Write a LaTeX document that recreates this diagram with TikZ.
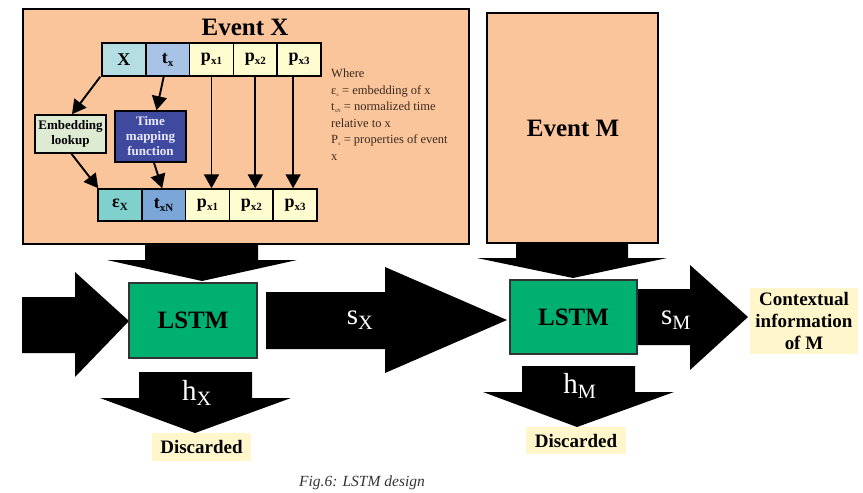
\documentclass[tikz,border=0pt]{standalone}
\usepackage{fontspec}
\setmainfont{Liberation Serif}
\usetikzlibrary{arrows.meta}
\definecolor{peach}{HTML}{FBC59B}
\definecolor{cellx}{HTML}{B4DEE2}
\definecolor{celltx}{HTML}{A8C3E6}
\definecolor{cellp}{HTML}{FFFCD0}
\definecolor{celleps}{HTML}{80D0CE}
\definecolor{celltxn}{HTML}{7AA6D8}
\definecolor{embfill}{HTML}{DEEBD3}
\definecolor{tmfill}{HTML}{3F4A9E}
\definecolor{lstmfill}{HTML}{00B070}
\definecolor{notefill}{HTML}{FFF6CC}
\definecolor{notetext}{HTML}{3B2A20}
\definecolor{captext}{HTML}{333333}
\tikzset{
  eventbox/.style={draw=black, line width=1.6pt, fill=peach, inner sep=0pt},
  cellbox/.style={draw=black, line width=1.5pt, minimum width=43.8pt, inner sep=0pt,
    font=\fontsize{18}{18}\selectfont\bfseries},
  funcbox/.style={draw=black, line width=1.6pt, inner sep=0pt, align=center,
    font=\fontsize{13}{15}\selectfont\bfseries},
  lstmbox/.style={draw=black!80, line width=1.6pt, fill=lstmfill, inner sep=0pt,
    font=\fontsize{25}{25}\selectfont\bfseries},
  notebox/.style={fill=notefill, inner sep=0pt, align=center,
    font=\fontsize{19}{22}\selectfont\bfseries},
  bigarrow/.style={fill=black},
  arrowlabel/.style={text=white, font=\fontsize{29}{29}\selectfont},
  smallarr/.style={line width=1.9pt, -{Triangle[width=15pt,length=14pt]}},
}
\newcommand{\tinysub}[1]{\raisebox{-2pt}{\fontsize{5}{5}\selectfont #1}}
\newcommand{\cellsub}[1]{\raisebox{-3pt}{\fontsize{11}{11}\selectfont #1}}
\begin{document}
\begin{tikzpicture}[x=1pt,y=-1pt]
\useasboundingbox (0,0) rectangle (863,493);

% big block arrows (drawn first)
\fill[bigarrow] (145,244) -- (258,244) -- (258,260) -- (297,260) -- (202,281) -- (107,260) -- (145,260) -- cycle;
\fill[bigarrow] (22,297) -- (75,297) -- (75,272) -- (129,321) -- (75,377) -- (75,353) -- (22,353) -- cycle;
\fill[bigarrow] (266,292) -- (385,292) -- (385,267) -- (507,320) -- (385,373) -- (385,349) -- (266,349) -- cycle;
\fill[bigarrow] (139,372) -- (252,372) -- (252,398) -- (291,398) -- (195,433) -- (100,398) -- (139,398) -- cycle;
\fill[bigarrow] (516,243) -- (628,243) -- (628,258) -- (667,258) -- (573,278) -- (477,258) -- (516,258) -- cycle;
\fill[bigarrow] (637,289) -- (690,289) -- (690,265) -- (748,317) -- (690,370) -- (690,345) -- (637,345) -- cycle;
\fill[bigarrow] (522,366) -- (635,366) -- (635,392) -- (674,392) -- (577,427) -- (483,392) -- (522,392) -- cycle;

% Event X box
\node[eventbox, minimum width=446pt, minimum height=235pt] (evx) at (246,126.5) {};
\node[font=\fontsize{25}{25}\selectfont\bfseries] (evxtitle) at (245,27) {Event X};

% top row
\node[cellbox, fill=cellx, minimum height=33pt] (tX) at (123.9,59.5) {X};
\node[cellbox, fill=celltx, minimum height=33pt] (ttx) at (167.7,59.5) {t\cellsub{x}};
\node[cellbox, fill=cellp, minimum height=33pt] (tp1) at (211.5,59.5) {p\cellsub{x1}};
\node[cellbox, fill=cellp, minimum height=33pt] (tp2) at (255.3,59.5) {p\cellsub{x2}};
\node[cellbox, fill=cellp, minimum height=33pt] (tp3) at (299.1,59.5) {p\cellsub{x3}};

% bottom row
\node[cellbox, fill=celleps, minimum height=32pt] (bX) at (119.9,205) {ε\cellsub{X}};
\node[cellbox, fill=celltxn, minimum height=32pt] (btx) at (163.7,205) {t\cellsub{xN}};
\node[cellbox, fill=cellp, minimum height=32pt] (bp1) at (207.5,205) {p\cellsub{x1}};
\node[cellbox, fill=cellp, minimum height=32pt] (bp2) at (251.3,205) {p\cellsub{x2}};
\node[cellbox, fill=cellp, minimum height=32pt] (bp3) at (295.1,205) {p\cellsub{x3}};

% function boxes
\node[funcbox, fill=embfill, minimum width=71pt, minimum height=38pt] (emb) at (70.5,134) {Embedding\\lookup};
\node[funcbox, fill=tmfill, text=white!92!blue, minimum width=71pt, minimum height=51pt] (tm) at (150.5,136.5) {Time\\mapping\\function};

% small arrows
\draw[smallarr] ([xshift=-1pt]tX.south west) -- ([xshift=1.5pt]emb.north);
\draw[smallarr] ([xshift=-4pt]ttx.south) -- ([xshift=6pt]tm.north);
\draw[smallarr] ([xshift=1pt]emb.south) -- ([xshift=1pt]bX.north west);
\draw[smallarr] ([xshift=3.5pt]tm.south) -- ([xshift=-1.5pt]btx.north);
\draw[smallarr] (tp1.south) -- (tp1.south |- bp1.north);
\draw[smallarr] (tp2.south) -- (tp2.south |- bp2.north);
\draw[smallarr] ([xshift=-2pt]tp3.south -| bp3.north) -- ([xshift=-2pt]bp3.north);

% legend text
\node[anchor=north west, align=left, inner sep=0pt, text=notetext,
      font=\fontsize{12.5}{16.5}\selectfont] (legend) at (331,69)
  {Where\\
   ε\tinysub{x} = embedding of x\\
   t\tinysub{xN} = normalized time\\
   relative to x\\
   P\tinysub{x} = properties of event\\
   x};

% Event M box
\node[eventbox, minimum width=171pt, minimum height=230pt] (evm) at (572.5,128) {};
\node[font=\fontsize{25}{25}\selectfont\bfseries] (evmtitle) at (573,128) {Event M};

% LSTM boxes
\node[lstmbox, minimum width=128pt, minimum height=75pt] (lstmx) at (193,320.5) {LSTM};
\node[lstmbox, minimum width=127pt, minimum height=74pt] (lstmm) at (573.5,317) {LSTM};

% arrow labels
\node[arrowlabel] (sx) at (360,320) {s\textsubscript{X}};
\node[arrowlabel] (hx) at (197,393) {h\textsubscript{X}};
\node[arrowlabel] (sm) at (676,320) {s\textsubscript{M}};
\node[arrowlabel] (hm) at (580,386) {h\textsubscript{M}};

% notes
\node[notebox, minimum width=99pt, minimum height=28pt] (discx) at (201.5,447) {Discarded};
\node[notebox, minimum width=100pt, minimum height=27pt] (discm) at (576,440.5) {Discarded};
\node[notebox, minimum width=108pt, minimum height=66pt] (ctx) at (804,321) {Contextual\\information\\of M};

% caption
\node[text=captext, font=\fontsize{15.5}{15.5}\selectfont\itshape] (cap) at (362,483) {Fig.6: LSTM design};
\end{tikzpicture}
\end{document}
